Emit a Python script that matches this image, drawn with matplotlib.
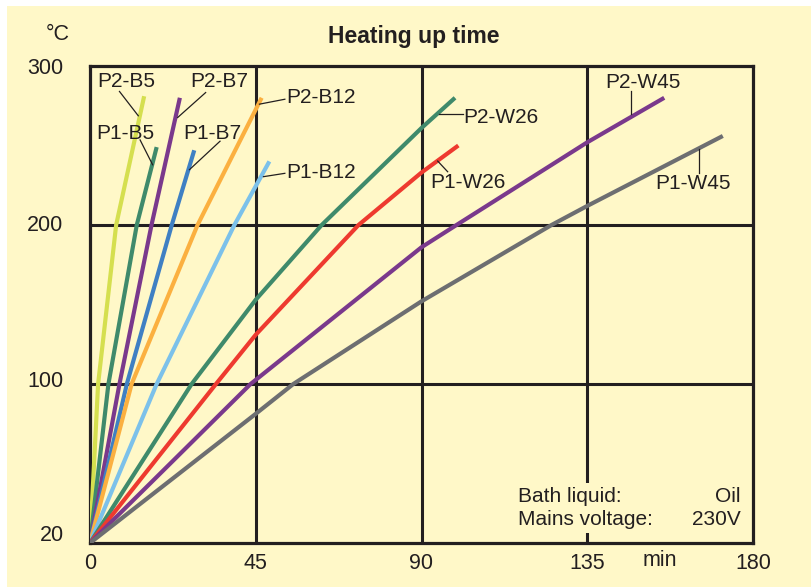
import numpy as np
import matplotlib
matplotlib.use("Agg")
import matplotlib.pyplot as plt
from matplotlib.patches import Rectangle
from matplotlib.transforms import ScaledTranslation

# ---- data (time in min, temperature in °C) ----
p2_b5_t = [0, 2.2, 7.1, 14.7]
p2_b5_T = [20, 100, 200, 281]
p1_b5_t = [0, 5.0, 12.7, 18.1]
p1_b5_T = [20, 100, 200, 249]
p2_b7_t = [0, 8.0, 16.7, 24.4]
p2_b7_T = [20, 100, 200, 280]
p1_b7_t = [0, 10.0, 22.2, 28.3]
p1_b7_T = [20, 100, 200, 247]
p2_b12_t = [0, 11.3, 29.2, 46.6]
p2_b12_T = [20, 100, 200, 280]
p1_b12_t = [0, 18.1, 39.2, 48.7]
p1_b12_T = [20, 100, 200, 240]
p2_w26_t = [0, 27.6, 45, 62.9, 90, 99.1]
p2_w26_T = [20, 100, 153, 200, 261, 280]
p1_w26_t = [0, 34.2, 45, 72.9, 90, 100]
p1_w26_T = [20, 100, 131, 200, 233, 250]
p2_w45_t = [0, 43.6, 90, 99.5, 135, 155.9]
p2_w45_T = [20, 100, 186, 200, 252, 280]
p1_w45_t = [0, 45, 55.2, 90, 125.3, 135, 171.8]
p1_w45_T = [20, 85, 100, 152, 200, 212, 256]

series_names = ["P2-B5", "P1-B5", "P2-B7", "P1-B7", "P2-B12", "P1-B12",
                "P2-W26", "P1-W26", "P2-W45", "P1-W45"]
series_t = [p2_b5_t, p1_b5_t, p2_b7_t, p1_b7_t, p2_b12_t, p1_b12_t,
            p2_w26_t, p1_w26_t, p2_w45_t, p1_w45_t]
series_T = [p2_b5_T, p1_b5_T, p2_b7_T, p1_b7_T, p2_b12_T, p1_b12_T,
            p2_w26_T, p1_w26_T, p2_w45_T, p1_w45_T]
colors = ["#d5df4f", "#3f8a6b", "#7a398c", "#3f80c3", "#fbb040", "#7cc1ea",
          "#3f8a6b", "#ee3a2f", "#7a398c", "#6d6e71"]

x_ticks = [0, 45, 90, 135, 180]
y_ticks = [20, 100, 200, 300]

# label text position (x, y, ha) and leader line (x0, y0, x1, y1)
labels = {
    "P2-B5": ((1.9, 290.5, "left"), (8.0, 284.0, 13.1, 268.7)),
    "P1-B5": ((1.6, 257.5, "left"), (13.6, 253.5, 17.0, 237.9)),
    "P2-B7": ((27.3, 290.5, "left"), (31.4, 283.3, 23.8, 267.6)),
    "P1-B7": ((25.3, 257.5, "left"), (35.3, 252.7, 27.0, 234.8)),
    "P2-B12": ((53.2, 280.1, "left"), (52.9, 279.1, 46.0, 276.0)),
    "P1-B12": ((53.4, 233.1, "left"), (52.9, 232.5, 47.1, 230.4)),
    "P2-W26": ((101.3, 267.6, "left"), (101.3, 269.7, 94.8, 269.7)),
    "P1-W26": ((92.5, 226.8, "left"), (97.1, 233.5, 94.4, 240.2)),
    "P2-W45": ((140.0, 289.5, "left"), (146.9, 284.3, 146.9, 270.1)),
    "P1-W45": ((153.4, 225.8, "left"), (165.3, 232.4, 165.3, 248.1)),
}

BG = "#fff8c8"
INK = "#231f20"
FONT = ["Liberation Sans", "DejaVu Sans"]
plt.rcParams["font.family"] = FONT
FS = 15
TFS = 15.5


def fwd(y):
    y = np.asarray(y, dtype=float)
    return np.where(y < 100, (y - 20) / 80.0, 1 + (y - 100) / 100.0)


def inv(t):
    t = np.asarray(t, dtype=float)
    return np.where(t < 1, 20 + 80 * t, 100 + 100 * (t - 1))


fig = plt.figure(figsize=(8.11, 5.88), dpi=100, facecolor="white")
fig.patches.append(Rectangle((7 / 811, 1 / 588), 1 - 7 / 811, 1 - 7 / 588,
                             transform=fig.transFigure, facecolor=BG,
                             edgecolor="none", zorder=-10))

ax = fig.add_axes([90 / 811, 45 / 588, 663 / 811, 477 / 588])
ax.set_zorder(1)
ax.set_facecolor(BG)
ax.set_yscale("function", functions=(fwd, inv))
ax.set_xlim(0, 180)
ax.set_ylim(20, 300)
ax.set_xticks(x_ticks)
ax.set_yticks(y_ticks)
ax.set_xticklabels([str(v) for v in x_ticks])
ax.set_yticklabels([str(v) for v in y_ticks])
ax.yaxis.set_minor_locator(matplotlib.ticker.NullLocator())
ax.tick_params(axis="both", length=0, labelsize=TFS, labelcolor=INK)
ax.tick_params(axis="x", pad=7)
ax.tick_params(axis="y", pad=19)
for s in ax.spines.values():
    s.set_linewidth(2.3)
    s.set_color(INK)

# nudge the lower y labels upward as in the reference
ylabs = ax.get_yticklabels()
for lab, dy in zip(ylabs, [10, 5, 2, 0]):
    lab.set_transform(lab.get_transform() + ScaledTranslation(0, dy / 100, fig.dpi_scale_trans))

for xv in x_ticks[1:-1]:
    ax.axvline(xv, color=INK, lw=2.2, zorder=1)
for yv in y_ticks[1:-1]:
    ax.axhline(yv, color=INK, lw=2.2, zorder=1)

# box behind the info text that interrupts the grid
ax.add_patch(Rectangle((0.641, 0.021), 0.35, 0.105, transform=ax.transAxes,
                       facecolor=BG, edgecolor="none", zorder=2))

for name, t, T, c in zip(series_names, series_t, series_T, colors):
    ax.plot(t, T, color=c, lw=3.0, solid_capstyle="butt",
            solid_joinstyle="round", zorder=4)
    (lx, ly, ha), (x0, y0, x1, y1) = labels[name]
    ax.text(lx, ly, name, fontsize=FS, color=INK, ha=ha, va="center", zorder=6)
    ax.plot([x0, x1], [y0, y1], color=INK, lw=0.9, zorder=5)

ax.text(0.646, 0.098, "Bath liquid:", transform=ax.transAxes, fontsize=FS,
        color=INK, ha="left", va="center", zorder=6)
ax.text(0.981, 0.098, "Oil", transform=ax.transAxes, fontsize=FS,
        color=INK, ha="right", va="center", zorder=6)
ax.text(0.646, 0.049, "Mains voltage:", transform=ax.transAxes, fontsize=FS,
        color=INK, ha="left", va="center", zorder=6)
ax.text(0.981, 0.049, "230V", transform=ax.transAxes, fontsize=FS,
        color=INK, ha="right", va="center", zorder=6)

fig.text(70 / 811, 1 - 35 / 588, "°C", fontsize=TFS, color=INK,
         ha="right", va="center")
fig.text(660 / 811, 1 - 560 / 588, "min", fontsize=TFS, color=INK,
         ha="center", va="center")
fig.text(414 / 811, 1 - 37 / 588, "Heating up time", fontsize=16.5,
         fontweight="bold", color=INK, ha="center", va="center",
         family=["Liberation Sans Narrow", "Liberation Sans", "DejaVu Sans"])

fig.savefig("out.png", dpi=100, facecolor="white")
